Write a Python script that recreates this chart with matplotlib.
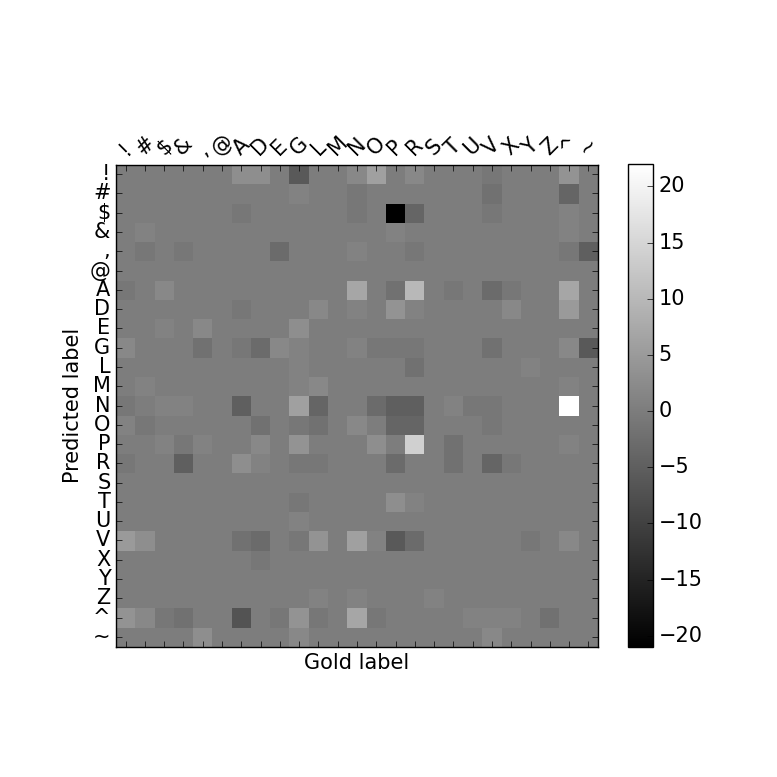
import numpy as np
import matplotlib
matplotlib.use("Agg")
import matplotlib.pyplot as plt

plt.style.use("classic")

### Labels (same for gold and predicted)
labels = ["!", "#", "$", "&", ",", "@", "A", "D", "E", "G", "L", "M", "N",
          "O", "P", "R", "S", "T", "U", "V", "X", "Y", "Z", "^", "~"]

### Difference of counts, rows = predicted label, columns = gold label
diff_counts = [
    [0, 0, 0, 0, 0, 0, 3, 3, 0, -6, 0, 0, 2, 6, 0, 2, 0, 0, 0, -1, 0, 0, 0, 4, 0],
    [0, 0, 0, 0, 0, 0, 0, 0, 0, 1, 0, 0, -1, 0, 0, 0, 0, 0, 0, -2, 0, 0, 0, -4, 0],
    [0, 0, 0, 0, 0, 0, -1, 0, 0, 0, 0, 0, -1, 0, -21, -4, 0, 0, 0, -1, 0, 0, 0, 1, 0],
    [0, 1, 0, 0, 0, 0, 0, 0, 0, 0, 0, 0, 0, 0, 1, 0, 0, 0, 0, 0, 0, 0, 0, 1, 0],
    [0, -1, 0, -1, 0, 0, 0, 0, -3, 0, 0, 0, 1, 0, 0, -1, 0, 0, 0, 0, 0, 0, 0, -1, -5],
    [0, 0, 0, 0, 0, 0, 0, 0, 0, 0, 0, 0, 0, 0, 0, 0, 0, 0, 0, 0, 0, 0, 0, 0, 0],
    [-1, 0, 2, 0, 0, 0, 0, 0, 0, 0, 0, 0, 7, 0, -2, 10, 0, -1, 0, -3, -1, 0, 0, 7, 0],
    [0, 0, 0, 0, 0, 0, -1, 0, 0, 0, 2, 0, 1, 0, 4, 1, 0, 0, 0, 0, 2, 0, 0, 5, 0],
    [0, 0, 1, 0, 2, 0, 0, 0, 0, 3, 0, 0, 0, 0, 0, 0, 0, 0, 0, 0, 0, 0, 0, 0, 0],
    [2, 0, 0, 0, -2, 0, -1, -3, 2, 1, 0, 0, 1, -1, -1, -1, 0, 0, 0, -2, 0, 0, 0, 2, -6],
    [0, 0, 0, 0, 0, 0, 0, 0, 0, 1, 0, 0, 0, 0, 0, -2, 0, 0, 0, 0, 0, 1, 0, 0, 0],
    [0, 1, 0, 0, 0, 0, 0, 0, 0, 1, 2, 0, 0, 0, 0, 0, 0, 0, 0, 0, 0, 0, 0, 1, 0],
    [-1, 0, 1, 1, 0, 0, -5, 0, 0, 6, -4, 0, 0, -3, -5, -5, 0, 1, -1, -1, 0, 0, 0, 22, 0],
    [1, -1, 0, 0, 0, 0, 0, -2, 0, -1, -2, 0, 2, 0, -4, -4, 0, 0, 0, -1, 0, 0, 0, 0, 0],
    [0, 0, 1, -1, 1, 0, 0, 2, 0, 4, 0, 0, 0, 3, 0, 14, 0, -2, 0, 0, 0, 0, 0, 1, 0],
    [-1, 0, 0, -5, 0, 0, 3, 1, 0, -1, -1, 0, 0, 0, -3, 0, 0, -2, 0, -4, -1, 0, 0, 0, 0],
    [0, 0, 0, 0, 0, 0, 0, 0, 0, 0, 0, 0, 0, 0, 0, 0, 0, 0, 0, 0, 0, 0, 0, 0, 0],
    [0, 0, 0, 0, 0, 0, 0, 0, 0, -1, 0, 0, 0, 0, 3, 1, 0, 0, 0, 0, 0, 0, 0, 0, 0],
    [0, 0, 0, 0, 0, 0, 0, 0, 0, 1, 0, 0, 0, 0, 0, 0, 0, 0, 0, 0, 0, 0, 0, 0, 0],
    [5, 3, 0, 0, 0, 0, -2, -3, 0, -1, 4, 0, 6, 1, -6, -3, 0, 0, 0, 0, 0, -1, 0, 2, 0],
    [0, 0, 0, 0, 0, 0, 0, -1, 0, 0, 0, 0, 0, 0, 0, 0, 0, 0, 0, 0, 0, 0, 0, 0, 0],
    [0, 0, 0, 0, 0, 0, 0, 0, 0, 0, 0, 0, 0, 0, 0, 0, 0, 0, 0, 0, 0, 0, 0, 0, 0],
    [0, 0, 0, 0, 0, 0, 0, 0, 0, 0, 1, 0, 1, 0, 0, 0, 1, 0, 0, 0, 0, 0, 0, 0, 0],
    [4, 2, -1, -2, 0, 0, -7, 0, -1, 4, -1, 0, 7, -1, 0, 0, 0, 0, 1, 1, 1, 0, -2, 0, 0],
    [0, 0, 0, 0, 3, 0, 0, 0, 0, 2, 0, 0, 0, 0, 0, 0, 0, 0, 0, 2, 0, 0, 0, 0, 0],
]

fs = 15

fig = plt.figure(figsize=(7.77, 7.77), dpi=100, facecolor="white")
ax = fig.add_axes([0.1493, 0.1673, 0.6203, 0.6216])
cax = fig.add_axes([0.8082, 0.1673, 0.0322, 0.6216])

img = ax.imshow(np.array(diff_counts), cmap="gray", interpolation="nearest")
cbar = fig.colorbar(img, cax=cax, ticks=range(-20, 21, 5))
cbar.ax.tick_params(labelsize=fs)

ticks = np.arange(len(labels))
ax.set_xticks(ticks)
ax.set_yticks(ticks)
ax.xaxis.tick_top()
ax.set_xticklabels(labels, rotation=45, fontsize=fs)
ax.set_yticklabels(labels, fontsize=fs)
ax.tick_params(top=True, bottom=True, left=True, right=True, labelbottom=False)
ax.set_xlabel("Gold label", fontsize=fs)
ax.xaxis.set_label_position("bottom")
ax.set_ylabel("Predicted label", fontsize=fs)

plt.savefig("out.png", dpi=100, facecolor="white")
